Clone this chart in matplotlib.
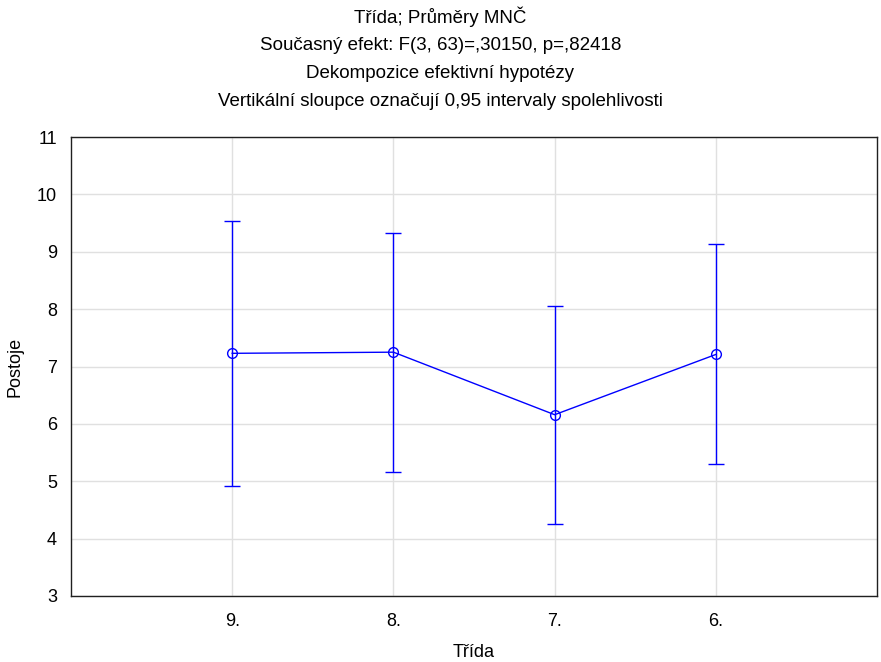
import numpy as np
import matplotlib
matplotlib.use("Agg")
import matplotlib.pyplot as plt

plt.rcParams['font.family'] = ['Liberation Sans', 'DejaVu Sans']

# Data
categories = ['9.', '8.', '7.', '6.']
means = [7.23, 7.25, 6.16, 7.21]
lower = [4.92, 5.17, 4.25, 5.30]
upper = [9.54, 9.33, 8.06, 9.13]

titles = ['Třída; Průměry MNČ',
          'Současný efekt: F(3, 63)=,30150, p=,82418',
          'Dekompozice efektivní hypotézy',
          'Vertikální sloupce označují 0,95 intervaly spolehlivosti']

x = np.arange(1, len(categories) + 1)
m = np.array(means)
yerr = [m - np.array(lower), np.array(upper) - m]

fig = plt.figure(figsize=(8.81, 6.62), dpi=100)
ax = fig.add_axes([0.0806, 0.0997, 0.9149, 0.6933])

ax.errorbar(x, m, yerr=yerr, color='#0000ff', lw=1, capsize=6, capthick=1,
            marker='o', mfc='none', mec='#0000ff', ms=7, mew=1, zorder=3)

ax.set_xlim(0, 5)
ax.set_ylim(3, 11)
ax.set_xticks(x)
ax.set_xticklabels(categories)
ax.set_yticks(range(3, 12))
ax.grid(True, color='#e0e0e0', lw=1)
ax.set_axisbelow(True)
ax.tick_params(labelsize=13, length=0)
ax.tick_params(axis='x', pad=12)
ax.tick_params(axis='y', pad=10)
for s in ax.spines.values():
    s.set_color('#202020')
    s.set_linewidth(1)

ax.set_xlabel('Třída', fontsize=13, labelpad=10)
ax.set_ylabel('Postoje', fontsize=13, labelpad=10)

for i, t in enumerate(titles):
    fig.text(0.5, 1 - (17 + 28 * i) / 662, t, ha='center', va='center', fontsize=13.5)

fig.savefig('out.png', dpi=100)
